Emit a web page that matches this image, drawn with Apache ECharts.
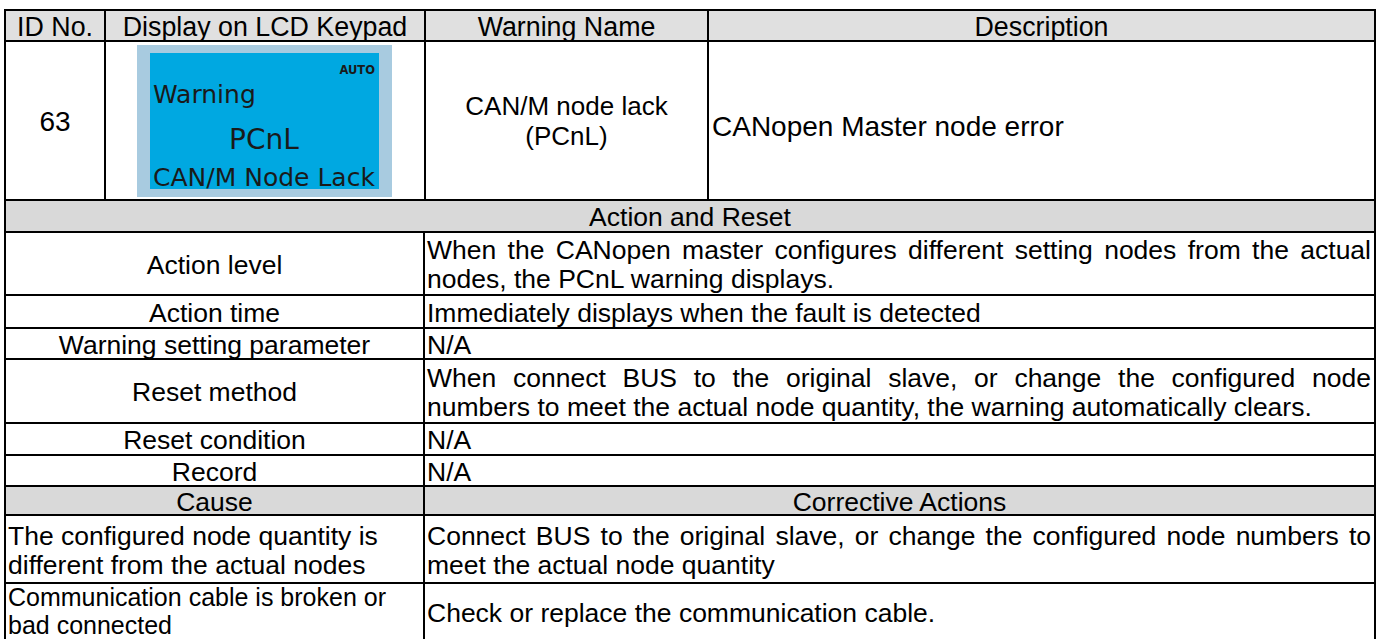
<!DOCTYPE html>
<html><head><meta charset="utf-8">
<script src="https://cdn.jsdelivr.net/npm/echarts@6/dist/echarts.min.js"></script>
<style>html,body{margin:0;padding:0;background:#fff}#c{width:1384px;height:639px}</style>
</head><body><div id="c"></div>
<script>
// ---------- DATA ----------
const headers = ['ID No.', 'Display on LCD Keypad', 'Warning Name', 'Description'];
const idNo = '63';
const lcdBadge = 'AUTO';
const lcdLines = ['Warning', 'PCnL', 'CAN/M Node Lack'];
const warningName = ['CAN/M node lack', '(PCnL)'];
const description = 'CANopen Master node error';
const sectionTitle = 'Action and Reset';
const actionLabels = ['Action level', 'Action time', 'Warning setting parameter', 'Reset method', 'Reset condition', 'Record'];
const actionTexts = [
  ['When the CANopen master configures different setting nodes from the actual', 'nodes, the PCnL warning displays.'],
  ['Immediately displays when the fault is detected'],
  ['N/A'],
  ['When connect BUS to the original slave, or change the configured node', 'numbers to meet the actual node quantity, the warning automatically clears.'],
  ['N/A'],
  ['N/A']
];
const causeHeaders = ['Cause', 'Corrective Actions'];
const causes = [
  ['The configured node quantity is', 'different from the actual nodes'],
  ['Communication cable is broken or', 'bad connected']
];
const corrective = [
  ['Connect BUS to the original slave, or change the configured node numbers to', 'meet the actual node quantity'],
  ['Check or replace the communication cable.']
];
const actionJustify = [true, false, false, true, false, false];
const correctiveJustify = [true, false];

// ---------- LAYOUT ----------
const FONT = '"Liberation Sans", Arial, sans-serif';
const LCDFONT = '"DejaVu Sans", sans-serif';
const HSIZE = 26.8, BSIZE = 26.5;
const XL = 5, XR = 1375;
const COLS = [105, 425, 708];
const XS = 424;
const YTOP = 10, YHEAD = 41, YMAIN = 200;
const lowerRows = [200, 232, 295, 328, 359, 423, 455, 486, 515, 583, 646];
const LINE_GAP = 29;

const ctx = document.createElement('canvas').getContext('2d');
function measure(t, size, fam, weight) {
  ctx.font = (weight || 'normal') + ' ' + size + 'px ' + fam;
  return ctx.measureText(t).width;
}
function txt(text, x, y, opts) {
  opts = opts || {};
  return {
    type: 'text', x: x, y: y, z: 10,
    style: {
      text: text,
      fontSize: opts.size || BSIZE,
      fontFamily: opts.family || FONT,
      fontWeight: opts.weight || 'normal',
      fill: opts.fill || '#000',
      align: opts.align || 'left',
      verticalAlign: 'middle'
    }
  };
}
function justified(line, x0, x1, y, size) {
  const words = line.split(' ');
  const w = words.map(s => measure(s, size, FONT));
  const total = w.reduce((a, b) => a + b, 0);
  const gap = (x1 - x0 - total) / (words.length - 1);
  let x = x0;
  const out = [];
  words.forEach((s, i) => { out.push(txt(s, x, y, {size: size})); x += w[i] + gap; });
  return out;
}
function hline(y, x0, x1) {
  return {type: 'line', z: 5, shape: {x1: x0, y1: y, x2: x1, y2: y}, style: {stroke: '#000', lineWidth: 2}};
}
function vline(x, y0, y1) {
  return {type: 'line', z: 5, shape: {x1: x, y1: y0, x2: x, y2: y1}, style: {stroke: '#000', lineWidth: 2}};
}
function rect(x, y, w, h, fill, z) {
  return {type: 'rect', z: z || 1, shape: {x: x, y: y, width: w, height: h}, style: {fill: fill}};
}

const g = [];
g.push(rect(XL, YTOP, XR - XL, YHEAD - YTOP, '#e0e0e0'));
g.push(rect(XL, lowerRows[0], XR - XL, lowerRows[1] - lowerRows[0], '#d9d9d9'));
g.push(rect(XL, lowerRows[7], XR - XL, lowerRows[8] - lowerRows[7], '#d9d9d9'));
// LCD
g.push(rect(137, 45, 255, 152, '#a8cbe0', 2));
g.push(rect(150, 53, 229, 136, '#00a8e1', 3));
g.push(txt(lcdBadge, 375, 70, {family: LCDFONT, size: 11.5, weight: 'bold', align: 'right', fill: '#1a1a1a'}));
g.push(txt(lcdLines[0], 153, 94, {family: LCDFONT, size: 25, fill: '#1a1a1a'}));
g.push(txt(lcdLines[1], 264, 139, {family: LCDFONT, size: 28, fill: '#1a1a1a', align: 'center'}));
g.push(txt(lcdLines[2], 153, 177, {family: LCDFONT, size: 25, fill: '#1a1a1a'}));

// lines
[YTOP, YHEAD, YMAIN].forEach(y => g.push(hline(y, XL - 1, XR + 1)));
lowerRows.slice(1).forEach(y => g.push(hline(y, XL - 1, XR + 1)));
g.push(vline(XL, YTOP - 1, 650));
g.push(vline(XR, YTOP - 1, 650));
COLS.forEach(x => g.push(vline(x, YTOP, YMAIN)));
g.push(vline(XS, lowerRows[1], 650));

const colEdges = [XL].concat(COLS).concat([XR]);
headers.forEach((h, i) => g.push(txt(h, (colEdges[i] + colEdges[i + 1]) / 2, (YTOP + YHEAD) / 2 + 1, {size: HSIZE, align: 'center'})));
const midMain = (YHEAD + YMAIN) / 2 + 1;
g.push(txt(idNo, (XL + COLS[0]) / 2, midMain, {align: 'center', size: 28}));
g.push(txt(warningName[0], (COLS[1] + COLS[2]) / 2, midMain - 16, {align: 'center', size: 26}));
g.push(txt(warningName[1], (COLS[1] + COLS[2]) / 2, midMain + 14, {align: 'center', size: 26}));
g.push(txt(description, COLS[2] + 4, midMain + 5, {size: 28}));

g.push(txt(sectionTitle, (XL + XR) / 2, (lowerRows[0] + lowerRows[1]) / 2 + 1, {align: 'center'}));

function cellLines(lines, x, mid, justify) {
  const n = lines.length;
  lines.forEach((l, i) => {
    const y = mid + (i - (n - 1) / 2) * LINE_GAP;
    if (justify && i === 0 && n > 1) justified(l, x, XR - 4, y, BSIZE).forEach(e => g.push(e));
    else g.push(txt(l, x, y));
  });
}
actionLabels.forEach((lab, i) => {
  const mid = (lowerRows[i + 1] + lowerRows[i + 2]) / 2 + 1;
  g.push(txt(lab, (XL + XS) / 2, mid, {align: 'center'}));
  cellLines(actionTexts[i], XS + 3, mid, actionJustify[i]);
});
const midCause = (lowerRows[7] + lowerRows[8]) / 2 + 1;
g.push(txt(causeHeaders[0], (XL + XS) / 2, midCause, {align: 'center'}));
g.push(txt(causeHeaders[1], (XS + XR) / 2, midCause, {align: 'center'}));
// row 1
cellLines(causes[0], XL + 3, (lowerRows[8] + lowerRows[9]) / 2 + 1, false);
cellLines(corrective[0], XS + 3, (lowerRows[8] + lowerRows[9]) / 2 + 1, correctiveJustify[0]);
// row 2 (last row, runs past the bottom edge of the picture)
g.push(txt(causes[1][0], XL + 3, 597, {size: 25}));
g.push(txt(causes[1][1], XL + 3, 625, {size: 25}));
cellLines(corrective[1], XS + 3, 613, correctiveJustify[1]);

const chart = echarts.init(document.getElementById('c'), null, {renderer: 'svg'});
chart.setOption({animation: false, backgroundColor: '#fff', graphic: {elements: g}});
</script></body></html>
